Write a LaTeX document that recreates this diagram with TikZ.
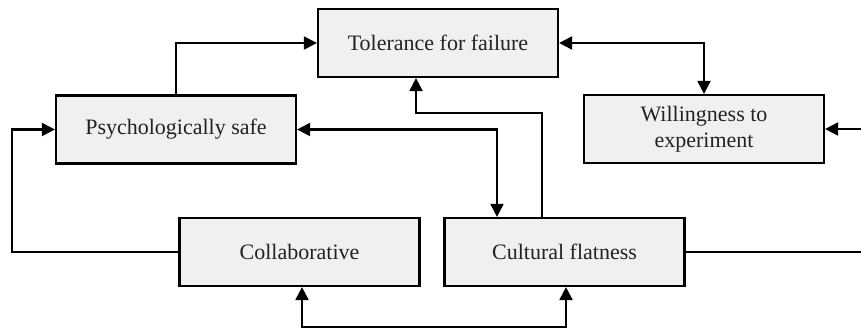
\documentclass[tikz,border=0pt]{standalone}
\usepackage{fontspec}
\setmainfont{Liberation Serif}
\usetikzlibrary{arrows.meta}
\definecolor{boxfill}{HTML}{F0F0F0}
\definecolor{inkgrey}{HTML}{222222}
\tikzset{
  box/.style={draw=black, fill=boxfill, line width=2.2pt, minimum width=240pt,
    minimum height=68pt, inner sep=2pt, align=center, text=inkgrey,
    font=\fontsize{22}{26.5}\selectfont},
  link/.style={line width=2.1pt, draw=black},
  tip/.tip={Triangle[length=13pt,width=13pt]}
}
\begin{document}
\begin{tikzpicture}[x=1pt,y=-1pt]
\useasboundingbox (0,0) rectangle (861,328);
\clip (0,0) rectangle (861,328);

\node[box] (tol) at (438,43)    {Tolerance for failure};
\node[box] (psy) at (176,129.5) {Psychologically safe};
\node[box] (wil) at (704,129)   {Willingness to\\experiment};
\node[box] (col) at (299.5,252) {Collaborative};
\node[box] (cul) at (564.5,252) {Cultural flatness};

% psychological safety feeds tolerance for failure
\draw[link,-tip] (psy.north) |- (tol.west);
% tolerance and willingness to experiment reinforce each other
\draw[link,tip-tip] (tol.east) -| (wil.north);
% psychological safety and cultural flatness
\draw[link,tip-tip] (psy.east) -| ([xshift=-67.5pt]cul.north);
% cultural flatness raises tolerance for failure
\draw[link,-tip] ([xshift=-22.5pt]cul.north) -- ++(0,-104) -| ([xshift=-22pt]tol.south);
% collaboration loops back to psychological safety
\draw[link,-tip] (col.west) -- ++(-166,0) |- (psy.west);
% cultural flatness loops round to willingness to experiment
\draw[link,-tip] (cul.east) -- ++(190,0) |- (wil.east);
% collaboration and cultural flatness linked along the bottom
\draw[link,tip-tip] ([xshift=2.5pt]col.south) -- ++(0,40) -| ([xshift=1.5pt]cul.south);
\end{tikzpicture}
\end{document}
